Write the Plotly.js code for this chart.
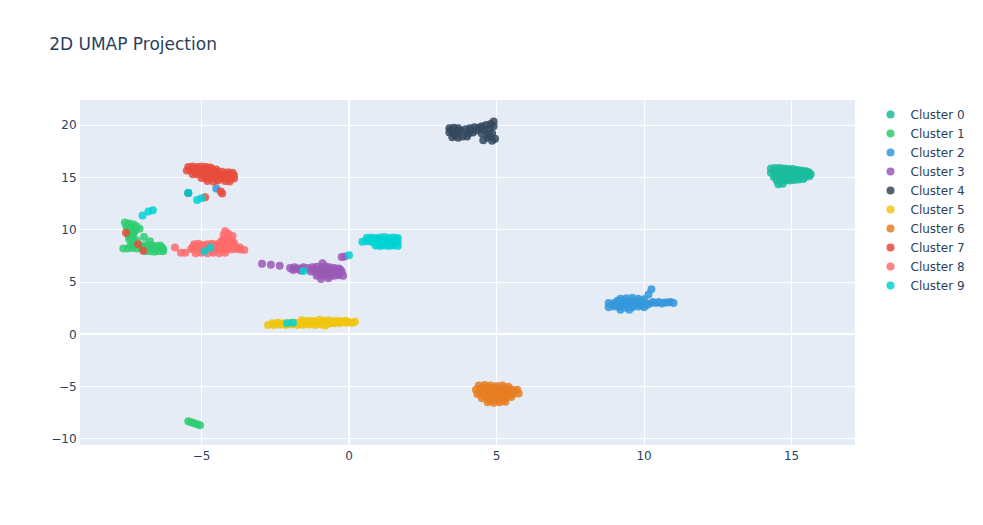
<!DOCTYPE html>
<html>
<head>
<meta charset="utf-8">
<script src="https://cdn.plot.ly/plotly-3.0.1.min.js"></script>
<style>html,body{margin:0;padding:0;background:#fff}#chart{width:983px;height:525px}</style>
</head>
<body>
<div id="chart"></div>
<script>
const clusterNames = ["Cluster 0","Cluster 1","Cluster 2","Cluster 3","Cluster 4","Cluster 5","Cluster 6","Cluster 7","Cluster 8","Cluster 9"];
const clusterColors = ["#1abc9c","#2ecc71","#3498db","#9b59b6","#34495e","#f1c40f","#e67e22","#e74c3c","#ff6b6b","#00d2d3"];

const c0x = [14.3,14.45,14.6,14.75,14.9,15.05,15.2, 14.3,14.45,14.6,14.75,14.9,15.05,15.2,15.35,15.5,15.65, 14.4,14.55,14.7,14.85,15.0,15.15,15.3,15.45,15.6, 14.5,14.65,14.8,14.95,15.1,15.25,15.4, 14.55,14.7,
  14.38,14.53,14.68,14.83,14.98,15.13,15.28,15.43,15.58, 14.45,14.6,14.75,14.9,15.05,15.2,15.35,15.5, 15.35,15.5, 14.6,14.8,15.0,15.2];
const c0y = [15.85,15.9,15.9,15.85,15.8,15.8,15.7, 15.45,15.5,15.5,15.45,15.5,15.45,15.4,15.5,15.4,15.3, 15.05,15.1,15.0,15.1,15.05,15.0,15.0,15.05,15.1, 14.7,14.75,14.7,14.7,14.75,14.8,14.85, 14.35,14.4,
  15.65,15.7,15.7,15.65,15.65,15.6,15.6,15.55,15.5, 15.25,15.3,15.25,15.3,15.25,15.2,15.25,15.2, 15.65,15.6, 14.9,14.9,14.9,14.95];

const c1x = [-7.6,-7.45,-7.3,-7.2,-7.55,-7.4,-7.25,-7.1,-7.5,-7.35,-7.45,-7.3,-7.4,-6.95,-6.75,
  -7.65,-7.5,-7.35,-7.2,-7.05,-6.9,-6.75,-6.6,-6.45,-6.3,
  -7.0,-6.85,-6.7,-6.55,-6.4,
  -6.9,-6.75,-6.6,-6.45,-6.3,
  -7.5,-7.35,-7.4,-7.3,-7.45,-7.2,-6.65,-6.5,-6.35,
  -5.45,-5.35,-5.25,-5.15,-5.05];
const c1y = [10.7,10.6,10.5,10.3,10.3,10.0,9.9,10.1,9.6,9.4,9.1,8.8,8.5,9.3,8.9,
  8.2,8.2,8.25,8.2,8.25,8.2,8.25,8.2,8.2,8.15,
  8.5,8.55,8.5,8.45,8.5,
  7.95,7.95,7.9,7.95,7.95,
  10.45,10.2,9.8,9.65,9.3,9.0,8.35,8.35,8.3,
  -8.3,-8.4,-8.5,-8.6,-8.7];

const c2x = [9.2,9.4,9.6,9.8,10.0,
  8.8,9.0,9.2,9.4,9.6,9.8,10.0,10.2,10.4,10.6,10.8,11.0,
  8.8,9.0,9.2,9.4,9.6,9.8,10.0,
  9.2,9.5,10.15,10.25,
  8.9,9.1,9.3,9.5,9.7,9.9,10.1,9.1,9.3,9.5,9.7,9.9,10.3,10.5,10.7,10.9,
  -4.5];
const c2y = [3.4,3.45,3.5,3.4,3.35,
  3.0,3.0,3.05,3.0,2.95,3.0,3.0,2.95,3.0,2.95,3.05,3.0,
  2.6,2.65,2.6,2.55,2.6,2.65,2.6,
  2.35,2.35,3.8,4.3,
  2.8,2.8,2.8,2.75,2.8,2.8,2.8,3.2,3.25,3.2,3.2,3.2,3.1,3.1,3.05,3.1,
  13.95];

const c3x = [-2.95,-2.65,-2.35,
  -2.0,-1.85,-1.7,-1.55,-1.4,-1.9,-1.65,
  -1.25,-1.1,-0.95,-0.8,-0.65,-0.5,-0.35,
  -1.3,-1.15,-1.0,-0.85,-0.7,-0.55,-0.4,-0.25,
  -1.1,-0.95,-0.8,-0.65,-0.5,-0.35,-0.2,
  -0.95,-0.7,-0.9,
  -1.2,-1.05,-0.9,-0.75,-0.6,-0.45,-0.3,-1.05,-0.85,-0.6,-0.4,-1.6,-1.8,
  -0.25,-0.15];
const c3y = [6.75,6.65,6.55,
  6.35,6.4,6.3,6.4,6.35,6.15,6.1,
  6.4,6.45,6.4,6.5,6.4,6.35,6.3,
  6.0,6.05,6.0,5.95,6.05,6.0,5.95,6.0,
  5.6,5.65,5.6,5.55,5.6,5.65,5.6,
  5.3,5.35,6.8,
  6.2,6.2,6.25,6.2,6.2,6.15,6.2,5.8,5.8,5.8,5.8,6.25,6.25,
  7.4,7.45];

const c4x = [3.4,3.55,3.7,3.4,3.55,3.7,3.5,3.7,3.85,
  3.95,4.1,4.25,4.05,4.2,4.35,4.0,
  4.5,4.65,4.8,4.9,4.6,4.75,4.85,4.7,4.55,4.85,4.95,
  3.45,3.62,3.8,3.6,4.15,4.4,4.5,4.9,4.75,
  -5.45];
const c4y = [19.7,19.75,19.7,19.3,19.2,19.3,18.85,18.8,18.9,
  19.6,19.7,19.8,19.2,19.3,19.5,18.9,
  19.9,20.0,20.1,20.35,19.5,19.6,19.2,18.8,18.55,18.5,18.7,
  19.5,19.5,19.45,19.0,19.5,19.75,19.2,19.9,19.0,
  13.5];

const c5x = [-2.75,-2.55,-2.35,-2.15,-1.95,-1.75,-1.55,-1.35,-1.15,-0.95,
  -2.6,-2.4,-2.2,-2.0,-1.8,-1.6,-1.4,-1.2,-1.0,-0.8,-0.6,-0.4,-0.2,0.0,0.2,
  -1.6,-1.3,-1.0,-0.7,-0.4,-0.1,
  -2.5,-2.3,-2.1,-1.9,-1.7,-1.5,-1.3,-1.1,-0.9,-0.7,-0.5,-0.3,-0.1,0.1,
  -1.45,-1.15,-0.85,-0.55,-0.25,-0.8];
const c5y = [0.9,0.88,0.92,0.9,0.95,0.9,0.92,0.95,0.9,0.95,
  1.05,1.1,1.05,1.1,1.1,1.15,1.1,1.15,1.1,1.15,1.1,1.15,1.2,1.15,1.2,
  1.35,1.3,1.4,1.35,1.3,1.3,
  0.98,1.0,0.98,1.0,1.02,1.0,1.05,1.02,1.05,1.0,1.05,1.08,1.1,1.1,
  1.25,1.25,1.3,1.25,1.25,0.85];

const c6x = [4.4,4.6,4.8,5.0,5.2,5.4,
  4.3,4.5,4.7,4.9,5.1,5.3,5.5,5.7,
  4.35,4.55,4.75,4.95,5.15,5.35,5.55,5.75,
  4.5,4.7,4.9,5.1,5.3,5.5,
  4.7,4.9,5.1,5.3,
  4.5,4.7,4.9,5.1,5.3,4.4,4.6,4.8,5.0,5.2,5.4,5.6,4.6,4.8,5.0,5.2,5.4,4.8,5.0,5.2,
  -5.3];
const c6y = [-4.9,-4.85,-4.9,-4.95,-4.9,-5.0,
  -5.3,-5.3,-5.25,-5.3,-5.35,-5.3,-5.25,-5.3,
  -5.7,-5.7,-5.75,-5.7,-5.65,-5.7,-5.7,-5.65,
  -6.1,-6.1,-6.15,-6.1,-6.05,-6.0,
  -6.5,-6.55,-6.5,-6.45,
  -5.1,-5.05,-5.1,-5.1,-5.15,-5.5,-5.5,-5.5,-5.5,-5.5,-5.5,-5.45,-5.9,-5.9,-5.9,-5.9,-5.85,-6.3,-6.3,-6.3,
  8.3];

const c7x = [-5.45,-5.3,-5.15,-5.0,-4.85,-4.7,
  -5.5,-5.35,-5.2,-5.05,-4.9,-4.75,-4.6,-4.45,
  -5.3,-5.15,-5.0,-4.85,-4.7,-4.55,-4.4,-4.2,-4.05,-3.9,
  -5.0,-4.85,-4.7,-4.55,-4.35,-4.2,-4.05,-3.9,
  -4.8,-4.6,-4.45,-4.2,-4.05,
  -5.4,-5.25,-5.1,-4.95,-4.8,-4.65,-4.5,-5.2,-5.05,-4.9,-4.75,-4.6,-4.3,-4.1,-3.95,-4.9,-4.75,-4.6,-4.45,-4.3,-4.15,-4.0,
  -4.35,-4.3,-4.88,-7.56,-7.15,-6.98];
const c7y = [16.0,16.05,16.0,16.05,16.0,15.95,
  15.65,15.7,15.65,15.6,15.65,15.6,15.65,15.55,
  15.3,15.3,15.35,15.3,15.25,15.3,15.2,15.35,15.3,15.2,
  14.95,14.9,14.95,15.0,14.9,14.95,14.85,14.9,
  14.65,14.6,14.7,14.65,14.6,
  15.85,15.85,15.85,15.8,15.85,15.8,15.75,15.45,15.45,15.5,15.45,15.45,15.55,15.5,15.45,15.1,15.1,15.15,15.1,15.15,15.1,15.05,
  13.65,13.45,13.1,9.7,8.6,8.0];

const c8x = [-5.9,-5.7,-5.55,
  -5.25,-5.1,-4.95,-4.8,-4.65,-4.5,-4.35,-4.2,-4.05,-3.9,
  -5.35,-5.2,-5.05,-4.9,-4.75,-4.6,-4.45,-4.3,-4.15,-4.0,-3.85,-3.7,-3.55,
  -5.2,-5.0,-4.8,-4.6,-4.4,-4.2,
  -4.3,-4.15,-4.0,-4.25,-4.1,-3.95,-4.2,
  -5.2,-5.05,-4.9,-4.75,-4.6,-4.45,-4.3,-4.15,-4.0,-3.85,-3.7,-4.35,-4.2,-4.05,-3.9,-4.1];
const c8y = [8.3,7.8,7.8,
  8.6,8.65,8.55,8.6,8.65,8.6,8.55,8.7,8.6,8.5,
  8.15,8.2,8.1,8.15,8.2,8.15,8.1,8.2,8.15,8.1,8.15,8.1,8.05,
  7.75,7.8,7.75,7.8,7.75,7.8,
  9.0,9.1,9.0,9.5,9.65,9.4,9.85,
  8.4,8.4,8.35,8.4,8.4,8.35,8.4,8.4,8.35,8.4,8.3,8.8,8.85,8.8,8.75,9.25];

const c9x = [0.6,0.75,0.9,1.05,1.2,1.35,1.5,1.65,
  0.45,0.6,0.75,0.9,1.05,1.2,1.35,1.5,1.65,
  0.9,1.05,1.2,1.35,1.5,1.65,
  0.7,0.85,1.0,1.15,1.3,1.45,1.6,1.0,1.15,1.3,1.45,1.6,
  0.0,-1.55,-2.1,-1.9,-6.8,-6.65,-7.0,-5.15,-5.0,-4.9,-4.7,-5.45];
const c9y = [9.2,9.25,9.2,9.25,9.3,9.2,9.25,9.2,
  8.85,8.9,8.85,8.8,8.9,8.85,8.8,8.9,8.85,
  8.5,8.45,8.5,8.45,8.5,8.45,
  9.05,9.05,9.0,9.05,9.05,9.0,9.05,8.65,8.65,8.65,8.65,8.65,
  7.55,6.05,1.05,1.1,11.75,11.85,11.35,12.85,13.0,7.95,8.3,13.5];

const xs = [c0x,c1x,c2x,c3x,c4x,c5x,c6x,c7x,c8x,c9x];
const ys = [c0y,c1y,c2y,c3y,c4y,c5y,c6y,c7y,c8y,c9y];

const traces = clusterNames.map((name, i) => ({
  type: "scatter",
  mode: "markers",
  name: name,
  x: xs[i],
  y: ys[i],
  marker: {color: clusterColors[i], size: 8, opacity: 0.85}
}));

const layout = {
  width: 983,
  height: 525,
  title: {text: "2D UMAP Projection", x: 0.05, font: {size: 17, color: "#2a3f5f"}},
  font: {family: "DejaVu Sans, Verdana, sans-serif", size: 12, color: "#2a3f5f"},
  paper_bgcolor: "#ffffff",
  plot_bgcolor: "#E5ECF6",
  margin: {l: 80, r: 80, t: 100, b: 80},
  xaxis: {range: [-9.12, 17.15], dtick: 5, gridcolor: "white", zerolinecolor: "white", zerolinewidth: 2, linecolor: "white", ticks: ""},
  yaxis: {range: [-10.58, 22.4], dtick: 5, gridcolor: "white", zerolinecolor: "white", zerolinewidth: 2, linecolor: "white", ticks: ""},
  legend: {font: {size: 12}},
  showlegend: true
};

Plotly.newPlot("chart", traces, layout, {displayModeBar: false});
</script>
</body>
</html>
